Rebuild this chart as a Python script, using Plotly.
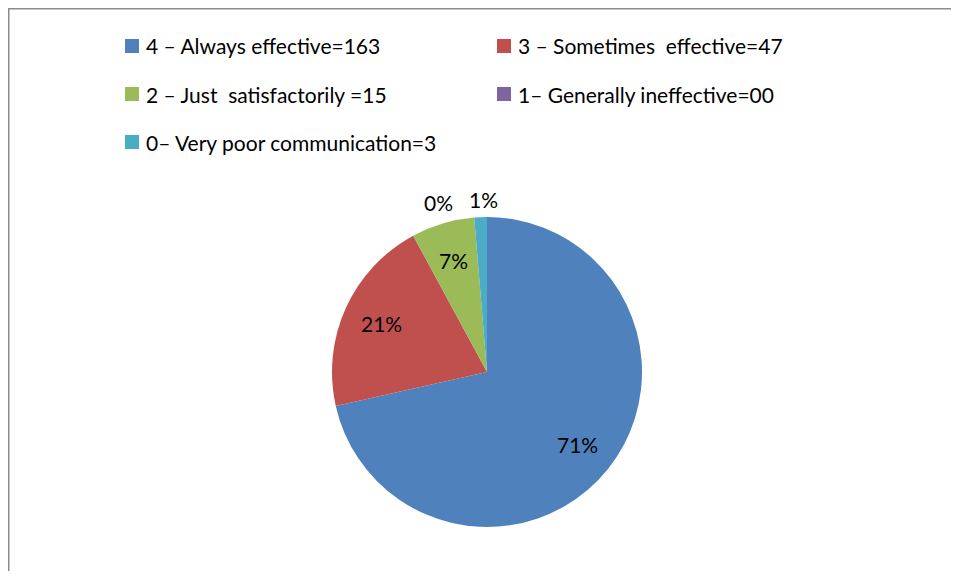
import math
import plotly.graph_objects as go

labels = [
    "4 – Always effective=163",
    "3 – Sometimes\u00a0 effective=47",
    "2 – Just\u00a0 satisfactorily =15",
    "1– Generally ineffective=00",
    "0– Very poor communication=3",
]
values = [163, 47, 15, 0, 3]
colors = ["#4F81BD", "#C0504D", "#9BBB59", "#8064A2", "#4BACC6"]
outside = [False, False, False, True, True]

FONT = "Lato, Carlito, 'Open Sans', sans-serif"

# the page body adds an 8px margin all round, so keep the figure inside the window
OFF = 8
FW, FH = 959 - 2 * OFF, 579 - 2 * OFF


def px(x):
    return (x - OFF) / FW


def py(y):
    return 1 - (y - OFF) / FH


cx, cy, r = 487, 372, 155

fig = go.Figure()
fig.add_trace(go.Pie(
    labels=labels,
    values=values,
    sort=False,
    direction="clockwise",
    rotation=0,
    marker=dict(colors=colors, line=dict(width=0)),
    textinfo="none",
    showlegend=False,
    hoverinfo="label+percent",
    domain=dict(x=[px(cx - r), px(cx + r)], y=[py(cy + r), py(cy - r)]),
))

shapes = []
annotations = []

# percentage labels, placed along each slice's middle angle
total = sum(values)
cum = 0
out_items = []
for v, out in zip(values, outside):
    pct = "{:.0f}%".format(100 * v / total)
    ang = 2 * math.pi * (cum + v / 2) / total
    cum += v
    if not out:
        rr = 0.75 * r
        x = cx + rr * math.sin(ang)
        y = cy - rr * math.cos(ang)
        annotations.append(dict(xref="paper", yref="paper", x=px(x), y=py(y),
                                xanchor="center", yanchor="middle", showarrow=False,
                                text=pct, font=dict(family=FONT, size=21, color="black")))
    else:
        out_items.append((pct, ang))

# small slices near the top: last label sits on its angle, earlier ones pushed left
rr = r + 18
lx = None
for pct, ang in reversed(out_items):
    x = cx + rr * math.sin(ang) + 4
    y = cy - rr * math.cos(ang)
    if lx is None:
        annotations.append(dict(xref="paper", yref="paper", x=px(x), y=py(y),
                                xanchor="center", yanchor="middle", showarrow=False,
                                text=pct, font=dict(family=FONT, size=21, color="black")))
        lx = x - 19 - 10
    else:
        annotations.append(dict(xref="paper", yref="paper", x=px(lx), y=py(y + 3),
                                xanchor="right", yanchor="middle", showarrow=False,
                                text=pct, font=dict(family=FONT, size=21, color="black")))
        lx -= 45

# two-column legend like the original
for i, (lab, col) in enumerate(zip(labels, colors)):
    c, row = i % 2, i // 2
    mx = 125 + c * 372
    my = 46 + row * 48
    shapes.append(dict(type="rect", xref="paper", yref="paper",
                       x0=px(mx), x1=px(mx + 14),
                       y0=py(my + 7), y1=py(my - 7),
                       fillcolor=col, line=dict(width=0)))
    annotations.append(dict(xref="paper", yref="paper", x=px(mx + 19), y=py(my),
                            xanchor="left", yanchor="middle", showarrow=False,
                            text=lab, font=dict(family=FONT, size=21, color="black")))

# chart frame, cut off at the right and bottom
shapes.append(dict(type="line", xref="paper", yref="paper", x0=0, x1=0, y0=0, y1=1,
                   line=dict(color="#8c8c8c", width=3)))
shapes.append(dict(type="line", xref="paper", yref="paper", x0=0, x1=1, y0=1, y1=1,
                   line=dict(color="#8c8c8c", width=3)))

fig.update_layout(
    width=FW, height=FH,
    margin=dict(l=0, r=0, t=0, b=0),
    paper_bgcolor="white",
    plot_bgcolor="white",
    shapes=shapes,
    annotations=annotations,
)

fig.write_html("out.html")
